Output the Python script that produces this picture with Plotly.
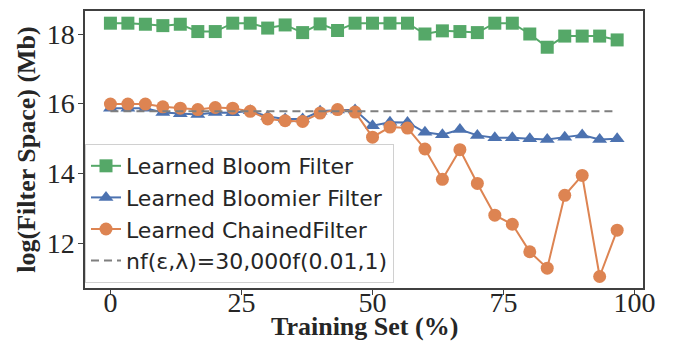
import plotly.graph_objects as go

training_pct = [0, 3.33, 6.67, 10, 13.33, 16.67, 20, 23.33, 26.67, 30,
                33.33, 36.67, 40, 43.33, 46.67, 50, 53.33, 56.67, 60, 63.33,
                66.67, 70, 73.33, 76.67, 80, 83.33, 86.67, 90, 93.33, 96.67]

bloom = [18.31, 18.31, 18.28, 18.24, 18.28, 18.07, 18.07, 18.31, 18.31, 18.17,
         18.26, 18.04, 18.29, 18.10, 18.31, 18.31, 18.31, 18.31, 18.00, 18.09,
         18.07, 18.04, 18.31, 18.31, 18.00, 17.62, 17.94, 17.94, 17.94, 17.83]

bloomier = [15.87, 15.87, 15.87, 15.75, 15.71, 15.69, 15.75, 15.74, 15.80, 15.63,
            15.56, 15.56, 15.78, 15.82, 15.82, 15.37, 15.47, 15.46, 15.18, 15.11,
            15.26, 15.09, 15.02, 15.02, 14.99, 14.97, 15.04, 15.10, 14.97, 14.99]

chained = [15.99, 15.99, 15.99, 15.91, 15.87, 15.83, 15.89, 15.87, 15.78, 15.56,
           15.51, 15.49, 15.73, 15.83, 15.76, 15.04, 15.33, 15.30, 14.70, 13.83,
           14.68, 13.71, 12.80, 12.54, 11.75, 11.28, 13.37, 13.94, 11.04, 12.37]

baseline_value = 15.78
baseline = [baseline_value] * len(training_pct)

x_ticks = [0, 25, 50, 75, 100]
y_ticks = [12, 14, 16, 18]

GREEN = "#55A868"
BLUE = "#4C72B0"
ORANGE = "#DD8452"
GRAY = "#7f7f7f"

fig = go.Figure()
fig.add_trace(go.Scatter(x=training_pct, y=bloom, mode="lines+markers",
                         name="Learned Bloom Filter",
                         line=dict(color=GREEN, width=2),
                         marker=dict(symbol="square", size=13, color=GREEN)))
fig.add_trace(go.Scatter(x=training_pct, y=bloomier, mode="lines+markers",
                         name="Learned Bloomier Filter",
                         line=dict(color=BLUE, width=2),
                         marker=dict(symbol="triangle-up", size=13, color=BLUE)))
fig.add_trace(go.Scatter(x=training_pct, y=chained, mode="lines+markers",
                         name="Learned ChainedFilter",
                         line=dict(color=ORANGE, width=2),
                         marker=dict(symbol="circle", size=13, color=ORANGE)))
fig.add_trace(go.Scatter(x=training_pct, y=baseline, mode="lines",
                         name="nf(ε,λ)=30,000f(0.01,1)",
                         line=dict(color=GRAY, width=2, dash="8px,5px")))

axis_common = dict(showline=True, linecolor="#404040", linewidth=1.5, mirror=True,
                   ticks="outside", ticklen=5, tickwidth=1.2, tickcolor="#404040",
                   showgrid=False, zeroline=False,
                   tickfont=dict(family="Liberation Serif", size=28, color="#262626"))

fig.update_layout(
    width=678, height=346,
    margin=dict(l=77, r=43, t=1, b=66),
    paper_bgcolor="white", plot_bgcolor="white",
    showlegend=True,
    legend=dict(x=0.0, y=0.018, xanchor="left", yanchor="bottom",
                bgcolor="rgba(255,255,255,0.8)", bordercolor="#d0d0d0", borderwidth=1,
                font=dict(family="DejaVu Sans", size=22, color="#262626"),
                tracegroupgap=0),
    xaxis=dict(range=[-4.85, 101.6], tickvals=x_ticks, ticklabelstandoff=-16,
               **axis_common),
    yaxis=dict(range=[10.71, 18.66], tickvals=y_ticks, ticklabelstandoff=-2,
               title=dict(text="log(Filter Space) (Mb)", standoff=4,
                          font=dict(family="Liberation Serif", size=26, color="#262626", weight="bold")),
               **axis_common),
    annotations=[dict(text="Training Set (%)", xref="paper", yref="paper",
                      x=0.5, y=-0.138, xanchor="center", yanchor="middle", showarrow=False,
                      font=dict(family="Liberation Serif", size=26, color="#262626", weight="bold"))],
)

fig.write_html("out.html")
